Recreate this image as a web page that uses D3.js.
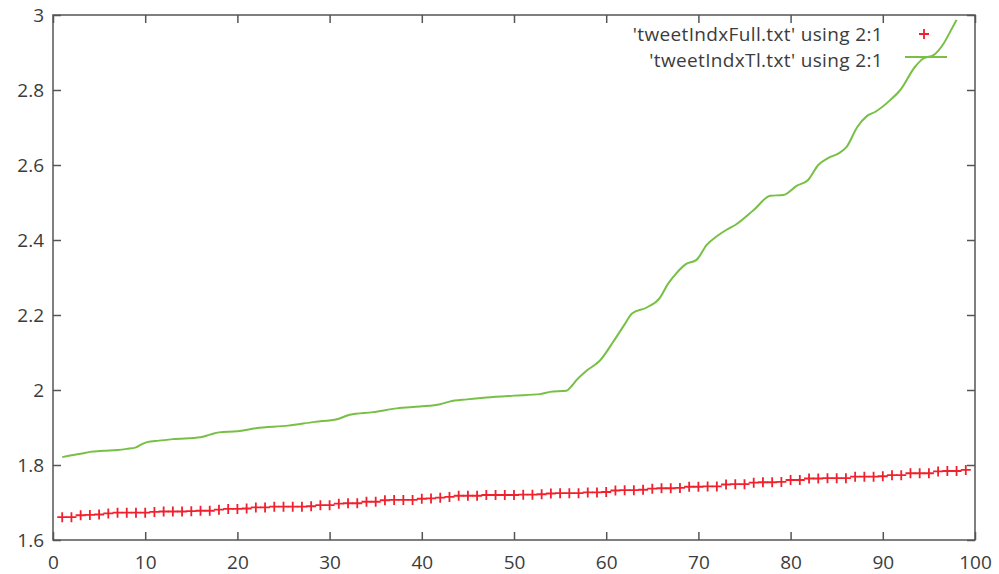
<!DOCTYPE html>
<html>
<head>
<meta charset="utf-8">
<script src="https://cdn.jsdelivr.net/npm/d3@7"></script>
<style>
  html, body { margin: 0; padding: 0; background: #fff; }
  svg { display: block; }
  text { font-family: "Open Sans", "DejaVu Sans", sans-serif; }
</style>
</head>
<body>
<svg id="chart" width="999" height="574"></svg>
<script>
// ---- data ----
const xTicks = [0, 10, 20, 30, 40, 50, 60, 70, 80, 90, 100];
const yTicks = [1.6, 1.8, 2.0, 2.2, 2.4, 2.6, 2.8, 3.0];
const yTickLabels = ["1.6", "1.8", "2", "2.2", "2.4", "2.6", "2.8", "3"];
const seriesNames = ["'tweetIndxFull.txt' using 2:1", "'tweetIndxTl.txt' using 2:1"];

// tweetIndxFull: points at x = 1..99
const fullX = d3.range(1, 100);
const fullY = [
  1.661, 1.661, 1.666, 1.667, 1.668, 1.671, 1.673, 1.673, 1.673, 1.673,
  1.675, 1.676, 1.676, 1.676, 1.677, 1.678, 1.678, 1.681, 1.683, 1.683,
  1.684, 1.687, 1.687, 1.689, 1.689, 1.689, 1.689, 1.690, 1.693, 1.693,
  1.697, 1.698, 1.698, 1.702, 1.702, 1.706, 1.707, 1.707, 1.707, 1.710,
  1.711, 1.713, 1.715, 1.718, 1.718, 1.718, 1.720, 1.720, 1.720, 1.720,
  1.721, 1.721, 1.722, 1.724, 1.725, 1.725, 1.725, 1.727, 1.727, 1.728,
  1.732, 1.733, 1.733, 1.734, 1.737, 1.738, 1.738, 1.739, 1.742, 1.742,
  1.743, 1.743, 1.748, 1.749, 1.749, 1.753, 1.754, 1.754, 1.755, 1.760,
  1.760, 1.764, 1.764, 1.765, 1.765, 1.765, 1.769, 1.769, 1.769, 1.770,
  1.773, 1.773, 1.778, 1.778, 1.778, 1.783, 1.784, 1.784, 1.787
];

// tweetIndxTl: continuous line
const tlX = [1, 2, 3, 4, 5.5, 7, 8, 9, 9.6, 10.2, 11.5, 13, 16, 17, 18, 20, 22, 25.5, 28.4, 30.8,
  32.2, 34.7, 37.3, 39.8, 42, 43, 44.9, 47, 50, 52.8, 53.9, 55.7, 56.3, 56.8, 57.9, 59.3, 60.8, 62,
  62.8, 64.4, 65.8, 66.7, 67.6, 68.6, 69.8, 70.9, 72, 73.1, 74, 76, 77.8, 79.2, 80.7, 81.9, 83.0,
  84.1, 85.2, 86.1, 87.2, 88.3, 89.2, 90.8, 91.9, 93.5, 94.4, 95.5, 96.6, 97.3, 98.0];
const tlY = [1.821, 1.826, 1.830, 1.835, 1.838, 1.840, 1.843, 1.847, 1.855, 1.861, 1.865, 1.869,
  1.874, 1.881, 1.887, 1.890, 1.898, 1.905, 1.915, 1.922, 1.934, 1.941, 1.951, 1.956, 1.962, 1.969,
  1.975, 1.980, 1.985, 1.989, 1.995, 1.998, 2.012, 2.027, 2.052, 2.078, 2.130, 2.175, 2.204, 2.220,
  2.245, 2.283, 2.311, 2.335, 2.347, 2.387, 2.410, 2.428, 2.440, 2.480, 2.518, 2.520, 2.545, 2.560,
  2.600, 2.619, 2.631, 2.649, 2.700, 2.731, 2.742, 2.773, 2.800, 2.862, 2.884, 2.893, 2.924, 2.955,
  2.987];

// ---- layout ----
const margin = { left: 53, right: 24, top: 15, bottom: 34 };
const W = 999, H = 574;
const iw = W - margin.left - margin.right;
const ih = H - margin.top - margin.bottom;
const svg = d3.select("#chart");
const g = svg.append("g").attr("transform", `translate(${margin.left},${margin.top})`);

const x = d3.scaleLinear().domain([0, 100]).range([0, iw]);
const y = d3.scaleLinear().domain([1.6, 3.0]).range([ih, 0]);

const axisColor = "#555";
const labelColor = "#3c3c3c";
const redColor = "#f0202c";
const greenColor = "#78c045";

function styleAxis(sel) {
  sel.select(".domain").remove();
  sel.selectAll(".tick line").attr("stroke", axisColor).attr("stroke-width", 1.5);
  sel.selectAll(".tick text").attr("fill", labelColor).style("font-size", "19px");
}

g.append("g").attr("transform", `translate(0,${ih})`)
  .call(d3.axisBottom(x).tickValues(xTicks).tickSize(-8).tickPadding(16).tickFormat(d3.format("d")))
  .call(styleAxis);
g.append("g").attr("transform", `translate(0,0)`)
  .call(d3.axisTop(x).tickValues(xTicks).tickSize(-8).tickFormat(""))
  .call(styleAxis);
g.append("g")
  .call(d3.axisLeft(y).tickValues(yTicks).tickSize(-8).tickPadding(9).tickFormat((d, i) => yTickLabels[i]))
  .call(styleAxis);
g.append("g").attr("transform", `translate(${iw},0)`)
  .call(d3.axisRight(y).tickValues(yTicks).tickSize(-8).tickFormat(""))
  .call(styleAxis);

g.selectAll(".tick text").attr("font-family", null);

// border
g.append("rect").attr("x", 0).attr("y", 0).attr("width", iw).attr("height", ih)
  .attr("fill", "none").attr("stroke", axisColor).attr("stroke-width", 1.5);

// green line
const tlData = tlX.map((d, i) => [d, tlY[i]]);
g.append("path").datum(tlData)
  .attr("fill", "none").attr("stroke", greenColor).attr("stroke-width", 2)
  .attr("stroke-linejoin", "round")
  .attr("d", d3.line().x(d => x(d[0])).y(d => y(d[1])).curve(d3.curveMonotoneX));

// red plus markers
const plusSize = 5;
const fullData = fullX.map((d, i) => [d, fullY[i]]);
g.append("g").selectAll("path").data(fullData).join("path")
  .attr("transform", d => `translate(${x(d[0])},${y(d[1])})`)
  .attr("d", `M${-plusSize},0H${plusSize}M0,${-plusSize}V${plusSize}`)
  .attr("stroke", redColor).attr("stroke-width", 1.8).attr("fill", "none");

// legend
const legend = svg.append("g");
const legRows = [34, 60];
seriesNames.forEach((name, i) => {
  legend.append("text").attr("x", 883).attr("y", legRows[i]).attr("dy", "0.35em")
    .attr("text-anchor", "end").attr("fill", labelColor)
    .style("font-size", "19px").style("letter-spacing", "0.35px").text(name);
});
legend.append("path")
  .attr("transform", `translate(924,${legRows[0]})`)
  .attr("d", `M${-plusSize},0H${plusSize}M0,${-plusSize}V${plusSize}`)
  .attr("stroke", redColor).attr("stroke-width", 1.8);
legend.append("line").attr("x1", 905).attr("x2", 947).attr("y1", legRows[1] - 3).attr("y2", legRows[1] - 3)
  .attr("stroke", greenColor).attr("stroke-width", 2);
</script>
</body>
</html>
